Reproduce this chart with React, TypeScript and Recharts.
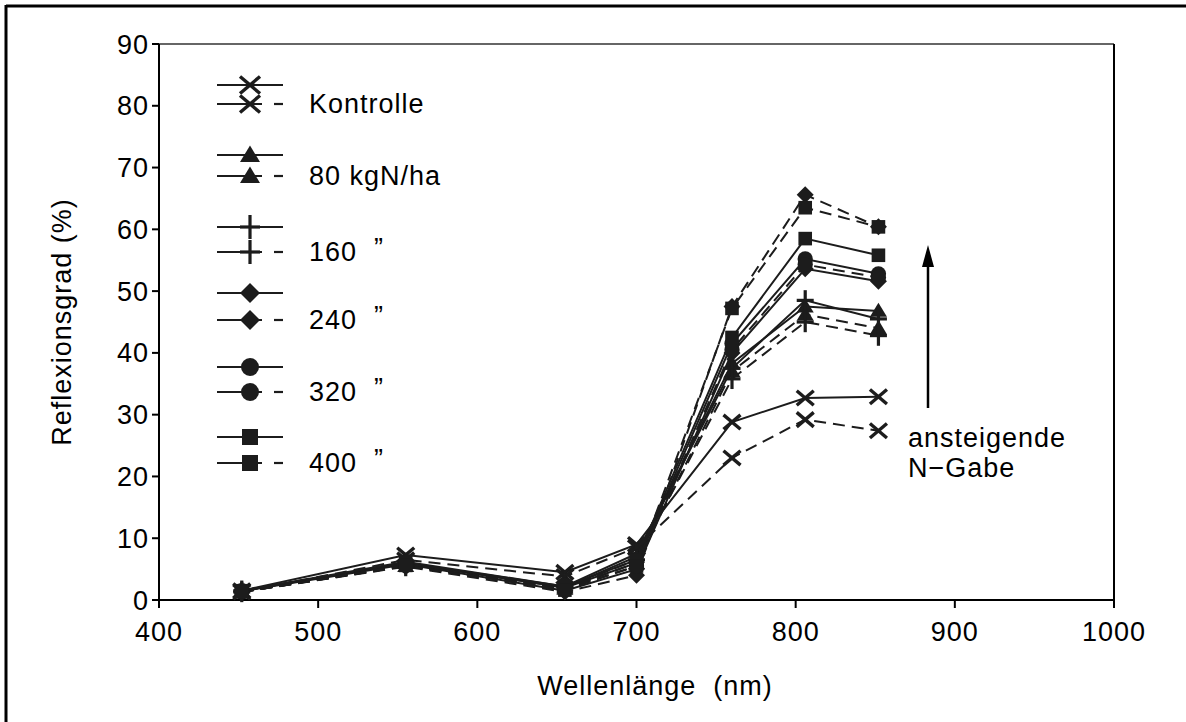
import React from 'react';
import { LineChart, Line, XAxis, YAxis, ReferenceLine } from 'recharts';

// wavelengths of the measured bands (nm)
const wavelengths = [452, 555, 655, 700, 760, 806, 852];

// reflectance (%), solid = first series, dashed = second series
const kontrolleA = [1.5, 7.3, 4.5, 9.0, 28.8, 32.7, 32.9];
const kontrolleB = [1.3, 6.5, 3.8, 8.5, 23.0, 29.2, 27.4];
const n80A = [1.5, 6.0, 2.0, 7.0, 38.3, 47.5, 46.8];
const n80B = [1.3, 5.5, 1.8, 6.0, 37.0, 46.2, 44.0];
const n160A = [1.5, 6.0, 2.2, 7.5, 37.5, 48.5, 45.5];
const n160B = [1.3, 5.5, 2.0, 6.5, 35.8, 45.0, 42.8];
const n240A = [1.4, 5.8, 1.5, 5.0, 40.0, 53.6, 51.6];
const n240B = [1.3, 5.4, 1.3, 4.0, 47.5, 65.6, 60.4];
const n320A = [1.5, 6.0, 2.0, 6.0, 41.5, 55.2, 52.8];
const n320B = [1.3, 5.6, 1.8, 5.5, 40.5, 54.3, 52.2];
const n400A = [1.5, 6.2, 2.2, 6.5, 42.5, 58.5, 55.8];
const n400B = [1.3, 5.6, 1.6, 5.5, 47.2, 63.5, 60.4];

const xTicks = [400, 500, 600, 700, 800, 900, 1000];
const yTicks = [0, 10, 20, 30, 40, 50, 60, 70, 80, 90];

const legendLabels = ['Kontrolle', '80 kgN/ha', '160', '240', '320', '400'];

type Kind = 'x' | 'tri' | 'plus' | 'diamond' | 'circle' | 'square';

const series: { key: string; values: number[]; kind: Kind; dashed: boolean }[] = [
  { key: 'kA', values: kontrolleA, kind: 'x', dashed: false },
  { key: 'kB', values: kontrolleB, kind: 'x', dashed: true },
  { key: 'n80A', values: n80A, kind: 'tri', dashed: false },
  { key: 'n80B', values: n80B, kind: 'tri', dashed: true },
  { key: 'n160A', values: n160A, kind: 'plus', dashed: false },
  { key: 'n160B', values: n160B, kind: 'plus', dashed: true },
  { key: 'n240A', values: n240A, kind: 'diamond', dashed: false },
  { key: 'n240B', values: n240B, kind: 'diamond', dashed: true },
  { key: 'n320A', values: n320A, kind: 'circle', dashed: false },
  { key: 'n320B', values: n320B, kind: 'circle', dashed: true },
  { key: 'n400A', values: n400A, kind: 'square', dashed: false },
  { key: 'n400B', values: n400B, kind: 'square', dashed: true },
];

const data = wavelengths.map((nm, i) => {
  const row: Record<string, number> = { nm };
  series.forEach((s) => { row[s.key] = s.values[i]; });
  return row;
});

const INK = '#1c1c1c';
const FONT = '"Liberation Sans", Arial, Helvetica, sans-serif';
const FS = 27;
const LS = 1;

function Marker({ kind, cx, cy, size }: { kind: Kind; cx: number; cy: number; size: number }) {
  const h = size / 2;
  switch (kind) {
    case 'x':
      return (
        <g stroke={INK} strokeWidth={3.4} strokeLinecap="butt">
          <line x1={cx - h} y1={cy - h * 0.85} x2={cx + h} y2={cy + h * 0.85} />
          <line x1={cx - h} y1={cy + h * 0.85} x2={cx + h} y2={cy - h * 0.85} />
        </g>
      );
    case 'tri':
      return <polygon points={`${cx},${cy - h * 0.95} ${cx + h},${cy + h * 0.7} ${cx - h},${cy + h * 0.7}`} fill={INK} />;
    case 'plus':
      return (
        <g stroke={INK} strokeWidth={3.2}>
          <line x1={cx - h} y1={cy} x2={cx + h} y2={cy} />
          <line x1={cx} y1={cy - h * 1.2} x2={cx} y2={cy + h * 1.2} />
        </g>
      );
    case 'diamond':
      return <polygon points={`${cx},${cy - h} ${cx + h},${cy} ${cx},${cy + h} ${cx - h},${cy}`} fill={INK} />;
    case 'circle':
      return <circle cx={cx} cy={cy} r={h * 0.9} fill={INK} />;
    default:
      return <rect x={cx - h * 0.8} y={cy - h * 0.8} width={h * 1.6} height={h * 1.6} fill={INK} />;
  }
}

const legendRows = [
  [85, 104],
  [155, 176],
  [227, 252],
  [293, 320],
  [367, 392],
  [437, 463],
];

const textProps = {
  fontFamily: FONT,
  fontSize: FS,
  letterSpacing: LS,
  fill: '#000',
  dominantBaseline: 'central' as const,
  style: { whiteSpace: 'pre' as const },
};

function Overlay() {
  return (
    <svg width={1186} height={722} style={{ position: 'absolute', left: 0, top: 0, pointerEvents: 'none' }}>
      {/* frame */}
      <line x1={6} y1={6} x2={1186} y2={6} stroke="#000" strokeWidth={3} />
      <line x1={6} y1={5} x2={6} y2={722} stroke="#000" strokeWidth={3} />

      {/* legend */}
      {legendRows.map(([ySolid, yDash], i) => {
        const kind = series[i * 2].kind;
        return (
          <g key={i}>
            <line x1={217} y1={ySolid} x2={283} y2={ySolid} stroke={INK} strokeWidth={2.2} />
            <Marker kind={kind} cx={250} cy={ySolid} size={20} />
            <line x1={217} y1={yDash} x2={262} y2={yDash} stroke={INK} strokeWidth={2.2} />
            <line x1={274} y1={yDash} x2={283} y2={yDash} stroke={INK} strokeWidth={2.2} />
            <Marker kind={kind} cx={250} cy={yDash} size={20} />
            <text x={309} y={yDash} {...textProps}>
              {legendLabels[i]}
            </text>
            {i >= 2 && (
              <text x={374} y={yDash - 4} {...textProps}>
                ”
              </text>
            )}
          </g>
        );
      })}

      {/* axis titles */}
      <text x={655} y={686} textAnchor="middle" {...textProps}>
        {'Wellenlänge  (nm)'}
      </text>
      <text x={62} y={322} textAnchor="middle" transform="rotate(-90 62 322)" {...textProps}>
        Reflexionsgrad (%)
      </text>

      {/* annotation arrow */}
      <line x1={928} y1={408} x2={928} y2={262} stroke="#000" strokeWidth={2.5} />
      <polygon points="928,245 922,267 934,267" fill="#000" />
      <text x={908} y={438} {...textProps}>
        ansteigende
      </text>
      <text x={908} y={468} {...textProps}>
        N−Gabe
      </text>
    </svg>
  );
}

export default function App() {
  return (
    <div style={{ position: 'absolute', left: 0, top: 0, width: 1186, height: 722, background: '#fff' }}>
      <LineChart width={1186} height={722} data={data} margin={{ top: 44, right: 72, left: 0, bottom: 62 }}>
        <XAxis
          dataKey="nm"
          type="number"
          domain={[400, 1000]}
          ticks={xTicks}
          interval={0}
          allowDataOverflow
          height={60}
          stroke="#000"
          strokeWidth={2}
          tickSize={8}
          tickMargin={14}
          tick={{ fontSize: FS, fill: '#000', fontFamily: FONT, letterSpacing: LS }}
        />
        <YAxis
          type="number"
          domain={[0, 90]}
          ticks={yTicks}
          interval={0}
          width={159}
          stroke="#000"
          strokeWidth={2}
          tickSize={7}
          tickMargin={3}
          tick={{ fontSize: FS, fill: '#000', fontFamily: FONT, letterSpacing: LS }}
        />
        <ReferenceLine y={90} stroke="#333" strokeWidth={1.5} />
        <ReferenceLine x={1000} stroke="#000" strokeWidth={2} />
        {series.map((s) => (
          <Line
            key={s.key}
            dataKey={s.key}
            type="linear"
            stroke={INK}
            strokeWidth={2}
            strokeDasharray={s.dashed ? '12 7' : undefined}
            isAnimationActive={false}
            activeDot={false}
            dot={(p: any) => (
              <Marker key={`${s.key}-${p.index}`} kind={s.kind} cx={p.cx} cy={p.cy} size={17} />
            )}
          />
        ))}
      </LineChart>
      <Overlay />
    </div>
  );
}
